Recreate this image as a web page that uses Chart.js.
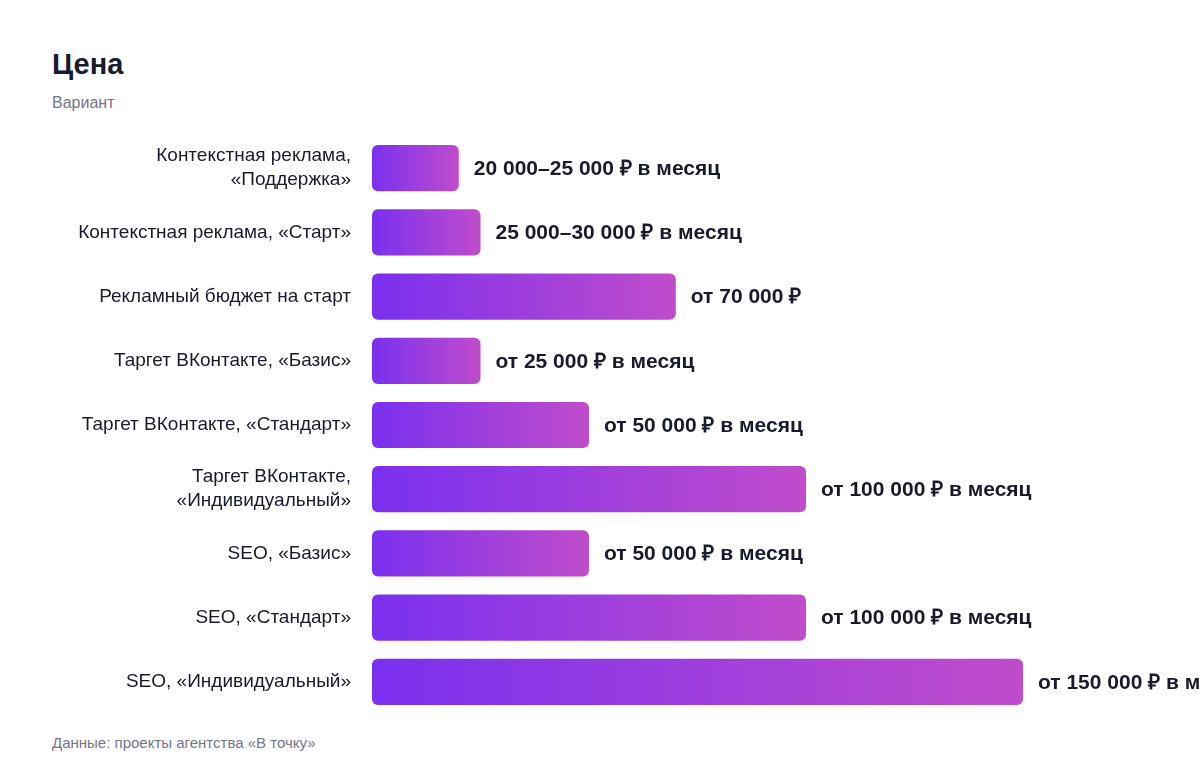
<!DOCTYPE html>
<html>
<head>
<meta charset="utf-8">
<script src="https://cdn.jsdelivr.net/npm/chart.js@4"></script>
<style>
  html, body { margin: 0; padding: 0; background: #fff; }
  body { width: 1200px; height: 776px; position: relative; overflow: hidden; font-family: "Liberation Sans", Arial, sans-serif; }
  h1 { position: absolute; left: 52px; top: 48px; margin: 0; font-size: 29px; font-weight: 700; color: #1a1a2e; }
  .sub { position: absolute; left: 52px; top: 94px; font-size: 16px; color: #74748a; }
  .foot { position: absolute; left: 52px; top: 734px; font-size: 15px; color: #74748a; }
  #myChart { position: absolute; left: 0; top: 120px; }
</style>
</head>
<body>
<h1>Цена</h1>
<div class="sub">Вариант</div>
<canvas id="myChart" width="1200" height="610"></canvas>
<div class="foot">Данные: проекты агентства «В точку»</div>
<script>
const categories = [
  ['Контекстная реклама,', '«Поддержка»'],
  'Контекстная реклама, «Старт»',
  'Рекламный бюджет на старт',
  'Таргет ВКонтакте, «Базис»',
  'Таргет ВКонтакте, «Стандарт»',
  ['Таргет ВКонтакте,', '«Индивидуальный»'],
  'SEO, «Базис»',
  'SEO, «Стандарт»',
  'SEO, «Индивидуальный»'
];
const prices = [20000, 25000, 70000, 25000, 50000, 100000, 50000, 100000, 150000];
const priceLabels = [
  '20 000–25 000 ₽ в месяц',
  '25 000–30 000 ₽ в месяц',
  'от 70 000 ₽',
  'от 25 000 ₽ в месяц',
  'от 50 000 ₽ в месяц',
  'от 100 000 ₽ в месяц',
  'от 50 000 ₽ в месяц',
  'от 100 000 ₽ в месяц',
  'от 150 000 ₽ в месяц'
];

// each bar gets its own left-to-right gradient, built from the x scale
const barGradient = (context) => {
  const chart = context.chart;
  const xs = chart.scales.x;
  if (!chart.chartArea || !xs || context.raw == null) return '#8b3ae6';
  const x0 = xs.getPixelForValue(0);
  const x1 = xs.getPixelForValue(context.raw);
  const g = chart.ctx.createLinearGradient(x0, 0, x1, 0);
  g.addColorStop(0, '#7a30ef');
  g.addColorStop(1, '#c04ccb');
  return g;
};

const valueLabels = {
  id: 'valueLabels',
  afterDatasetsDraw(chart) {
    const ctx = chart.ctx;
    const meta = chart.getDatasetMeta(0);
    ctx.save();
    ctx.font = 'bold 21px "Liberation Sans", Arial, sans-serif';
    ctx.fillStyle = '#1a1a2e';
    ctx.textBaseline = 'middle';
    ctx.textAlign = 'left';
    meta.data.forEach((bar, i) => {
      ctx.fillText(priceLabels[i], bar.x + 15, bar.y + 1);
    });
    ctx.restore();
  }
};

const ctx = document.getElementById('myChart').getContext('2d');
new Chart(ctx, {
  type: 'bar',
  data: {
    labels: categories,
    datasets: [{
      data: prices,
      backgroundColor: barGradient,
      borderRadius: 6,
      borderSkipped: false,
      categoryPercentage: 1,
      barPercentage: 0.72
    }]
  },
  options: {
    indexAxis: 'y',
    responsive: false,
    animation: false,
    layout: { padding: { left: 0, right: 177, top: 16, bottom: 16 } },
    plugins: {
      legend: { display: false },
      tooltip: { enabled: false }
    },
    scales: {
      x: {
        min: 0,
        max: 150000,
        display: false
      },
      y: {
        grid: { display: false, tickLength: 0 },
        border: { display: false },
        ticks: {
          color: '#1a1a2e',
          font: { family: '"Liberation Sans", Arial, sans-serif', size: 19, lineHeight: 1.26 },
          padding: 21
        },
        afterFit(scale) {
          scale.width = 372;
          // don't let the label heights push the bars inward
          scale.paddingTop = 0;
          scale.paddingBottom = 0;
        }
      }
    }
  },
  plugins: [valueLabels]
});
</script>
</body>
</html>
